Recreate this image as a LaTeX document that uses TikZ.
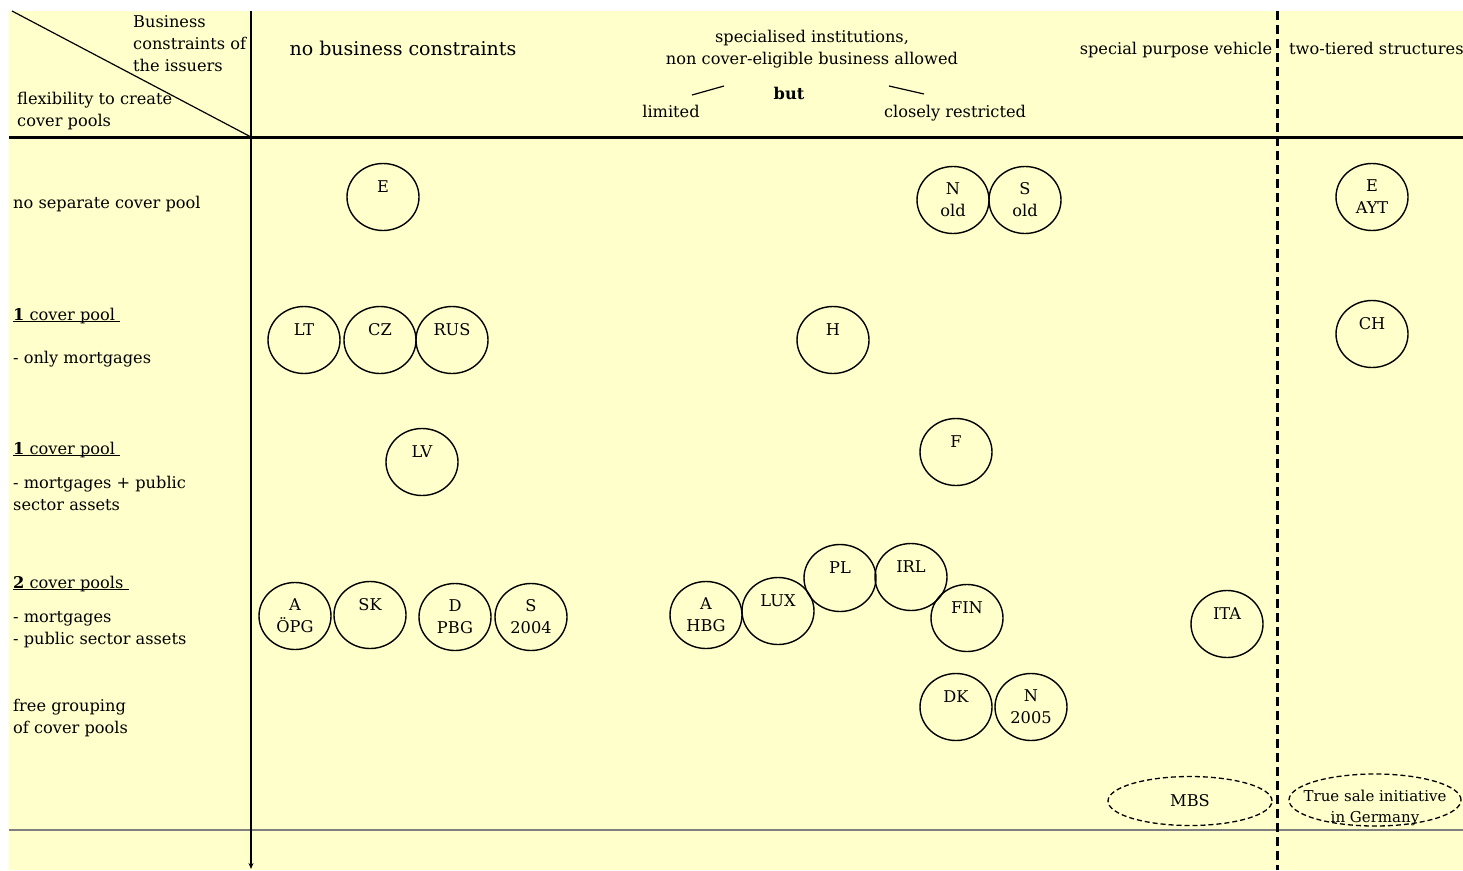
\documentclass[tikz,border=0pt]{standalone}
\usepackage{fontspec}
\setmainfont{DejaVu Serif}
\usetikzlibrary{shapes.geometric,arrows.meta}
\definecolor{bg}{HTML}{FFFFCC}
\newcommand\myul[1]{\setbox0\hbox{#1}\rlap{\rule[-2.4pt]{\wd0}{1.3pt}}\box0}
\newcommand\tf{\fontsize{16.2}{22}\selectfont}
\newcommand\hf{\fontsize{19}{22}\selectfont}
\begin{document}
\begin{tikzpicture}[x=1pt,y=-1pt,
  cty/.style={draw, line width=1.4pt, ellipse, minimum width=72pt, minimum height=67pt, inner sep=0pt, align=center, font=\tf},
  one/.style={cty, text height=12pt, text depth=22pt},
  dsh/.style={draw, line width=1.3pt, dash pattern=on 5pt off 3pt, ellipse, inner xsep=-20pt, inner ysep=-8pt, align=center, font=\tf},
  lbl/.style={anchor=base west, inner sep=0pt, align=left, font=\tf},
  hd/.style={anchor=base, inner sep=0pt, align=center, font=\tf},
  tick/.style={line width=1.2pt}]
\useasboundingbox (0,0) rectangle (1463,870);
\fill[bg] (9,11) rectangle (1463,870);
% frame lines
\coordinate (tl) at (12,11);
\coordinate (corner) at (251,137);
\coordinate (vtop) at (251,11);
\coordinate (vbot) at (251,869);
\coordinate (hl) at (9,137);
\coordinate (hr) at (1463,137);
\coordinate (gl) at (9,830);
\coordinate (gr) at (1463,830);
\coordinate (dtop) at (1277,11);
\coordinate (dbot) at (1277,870);
\draw[gray, line width=1.5pt] (gl) -- (gr);
\draw[line width=1.2pt] (tl) -- (corner);
\draw[line width=3pt] (hl) -- (hr);
\draw[line width=1.8pt, -{Stealth[length=6pt,width=5pt]}] (vtop) -- (vbot);
\draw[line width=3pt, dash pattern=on 9pt off 5pt] (dtop) -- (dbot);
% header texts
\node[lbl] (bc) at (133,71) {Business\\constraints of\\the issuers};
\node[lbl] (flex) at (17,126) {flexibility to create\\cover pools};
\node[hd, font=\hf] (nbc) at (403,55) {no business constraints};
\node[hd] (spec) at (812,64) {specialised institutions,\\non cover-eligible business allowed};
\node[hd, font=\tf\bfseries] (but) at (789,99) {but};
\node[hd] (lim) at (671,117) {limited};
\node[hd] (clo) at (955,117) {closely restricted};
\coordinate (l1a) at (692,95); \coordinate (l1b) at (724,86);
\coordinate (l2a) at (889,86); \coordinate (l2b) at (924,94);
\draw[tick] (l1a) -- (l1b);
\draw[tick] (l2a) -- (l2b);
\node[hd] (spv) at (1176,54) {special purpose vehicle};
\node[lbl] (two) at (1289,54) {two-tiered structures};
% row labels
\node[lbl] (r1) at (13,208) {no separate cover pool};
\node[lbl] (r2a) at (13,320) {\myul{\textbf{1} cover pool\ }};
\node[lbl] (r2b) at (13,363) {- only mortgages};
\node[lbl] (r3a) at (13,454) {\myul{\textbf{1} cover pool\ }};
\node[lbl] (r3b) at (13,510) {- mortgages + public\\sector assets};
\node[lbl] (r4a) at (13,588) {\myul{\textbf{2} cover pools\ }};
\node[lbl] (r4b) at (13,644) {- mortgages\\- public sector assets};
\node[lbl] (r5) at (13,733) {free grouping\\of cover pools};
% countries
\node[one] (E) at (383,197) {E};
\node[cty] (Nold) at (953,200) {N\\old};
\node[cty] (Sold) at (1025,200) {S\\old};
\node[cty] (EAYT) at (1372,197) {E\\AYT};
\node[one] (LT) at (304,340) {LT};
\node[one] (CZ) at (380,340) {CZ};
\node[one] (RUS) at (452,340) {RUS};
\node[one] (H) at (833,340) {H};
\node[one] (CH) at (1372,334) {CH};
\node[one] (LV) at (422,462) {LV};
\node[one] (F) at (956,452) {F};
\node[cty] (AOPG) at (295,616) {A\\ÖPG};
\node[one] (SK) at (370,615) {SK};
\node[cty] (DPBG) at (455,617) {D\\PBG};
\node[cty] (S2004) at (531,617) {S\\2004};
\node[cty] (AHBG) at (706,615) {A\\HBG};
\node[one] (LUX) at (778,611) {LUX};
\node[one] (PL) at (840,578) {PL};
\node[one] (IRL) at (911,577) {IRL};
\node[one] (FIN) at (967,618) {FIN};
\node[one] (ITA) at (1227,624) {ITA};
\node[one] (DK) at (956,707) {DK};
\node[cty] (N2005) at (1031,707) {N\\2005};
\node[dsh, minimum width=164pt, minimum height=49pt] (MBS) at (1190,801) {MBS};
\node[dsh, minimum width=172pt, minimum height=52pt, text height=48pt, font=\fontsize{15}{21}\selectfont] (TSI) at (1375,800) {True sale initiative\\in Germany};
\end{tikzpicture}
\end{document}
